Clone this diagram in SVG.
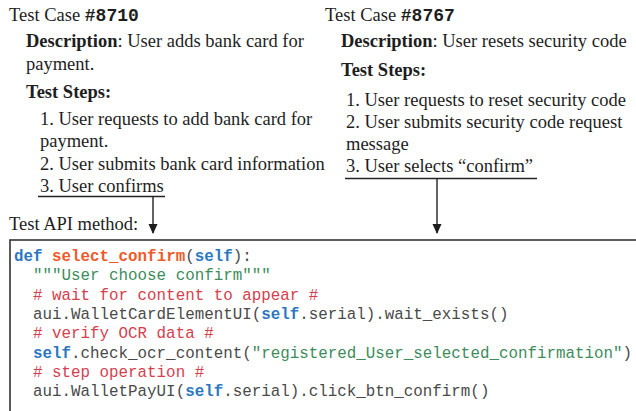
<svg xmlns="http://www.w3.org/2000/svg" width="636" height="411" viewBox="0 0 636 411">
<style>
.t{font-family:"Liberation Serif","Times New Roman",serif;font-size:18.5px;fill:#1e1e1e}
.b{font-weight:bold}
.m{font-family:"Liberation Mono","Courier New",monospace;font-weight:bold;font-size:18px}
.c{font-family:"Liberation Mono","Courier New",monospace;font-size:15.85px;fill:#4a4a4a;white-space:pre}
.kw{fill:#2b78c2;font-weight:bold}
.fn{fill:#f05a2a;font-weight:bold}
.st{fill:#3d8c5c}
.cm{fill:#d6404e}
.ln{stroke:#222;stroke-width:1.4;fill:none}
</style>
<defs>
<marker id="ah" markerWidth="10" markerHeight="10" refX="9" refY="5" orient="auto" markerUnits="userSpaceOnUse">
<path d="M0,0.5 L10,5 L0,9.5 Z" fill="#1e1e1e"/>
</marker>
</defs>
<g id="case8710">
<text class="t" x="9" y="21">Test Case <tspan class="m">#8710</tspan></text>
<text class="t" x="26" y="47"><tspan class="b">Description</tspan>: User adds bank card for</text>
<text class="t" x="26" y="70">payment.</text>
<text class="t b" x="26" y="98">Test Steps:</text>
<text class="t" x="40" y="125">1. User requests to add bank card for</text>
<text class="t" x="40" y="147">payment.</text>
<text class="t" x="40" y="170">2. User submits bank card information</text>
<text class="t" x="40" y="192">3. User confirms</text>
</g>
<g id="case8767">
<text class="t" x="325" y="21">Test Case <tspan class="m">#8767</tspan></text>
<text class="t" x="341" y="47"><tspan class="b">Description</tspan>: User resets security code</text>
<text class="t b" x="341" y="76">Test Steps:</text>
<text class="t" x="346" y="106">1. User requests to reset security code</text>
<text class="t" x="346" y="128">2. User submits security code request</text>
<text class="t" x="346" y="150">message</text>
<text class="t" x="346" y="172">3. User selects “confirm”</text>
</g>
<g id="label">
<text class="t" x="9" y="230">Test API method:</text>
</g>
<g id="code">
<rect x="10" y="240" width="700" height="300" fill="#fff" stroke="#333" stroke-width="1.6"/>
<text class="c" x="14" y="261"><tspan class="kw">def</tspan> <tspan class="fn">select_confirm</tspan>(<tspan class="kw">self</tspan>):</text>
<text class="c" x="14" y="280.3">  <tspan class="st">"""User choose confirm"""</tspan></text>
<text class="c" x="14" y="299.6">  <tspan class="cm"># wait for content to appear #</tspan></text>
<text class="c" x="14" y="318.9">  aui.WalletCardElementUI(<tspan class="kw">self</tspan>.serial).wait_exists()</text>
<text class="c" x="14" y="338.2">  <tspan class="cm"># verify OCR data #</tspan></text>
<text class="c" x="14" y="357.5">  <tspan class="kw">self</tspan>.check_ocr_content(<tspan class="st">"registered_User_selected_confirmation"</tspan>)</text>
<text class="c" x="14" y="376.8">  <tspan class="cm"># step operation #</tspan></text>
<text class="c" x="14" y="396.1">  aui.WalletPayUI(<tspan class="kw">self</tspan>.serial).click_btn_confirm()</text>
</g>
<g id="connectors">
<line class="ln" x1="38" y1="196.5" x2="165" y2="196.5"/>
<line class="ln" x1="153" y1="196.5" x2="153" y2="233" marker-end="url(#ah)"/>
<line class="ln" x1="345" y1="178.5" x2="537" y2="178.5"/>
<line class="ln" x1="437" y1="178.5" x2="437" y2="233" marker-end="url(#ah)"/>
</g>
</svg>
